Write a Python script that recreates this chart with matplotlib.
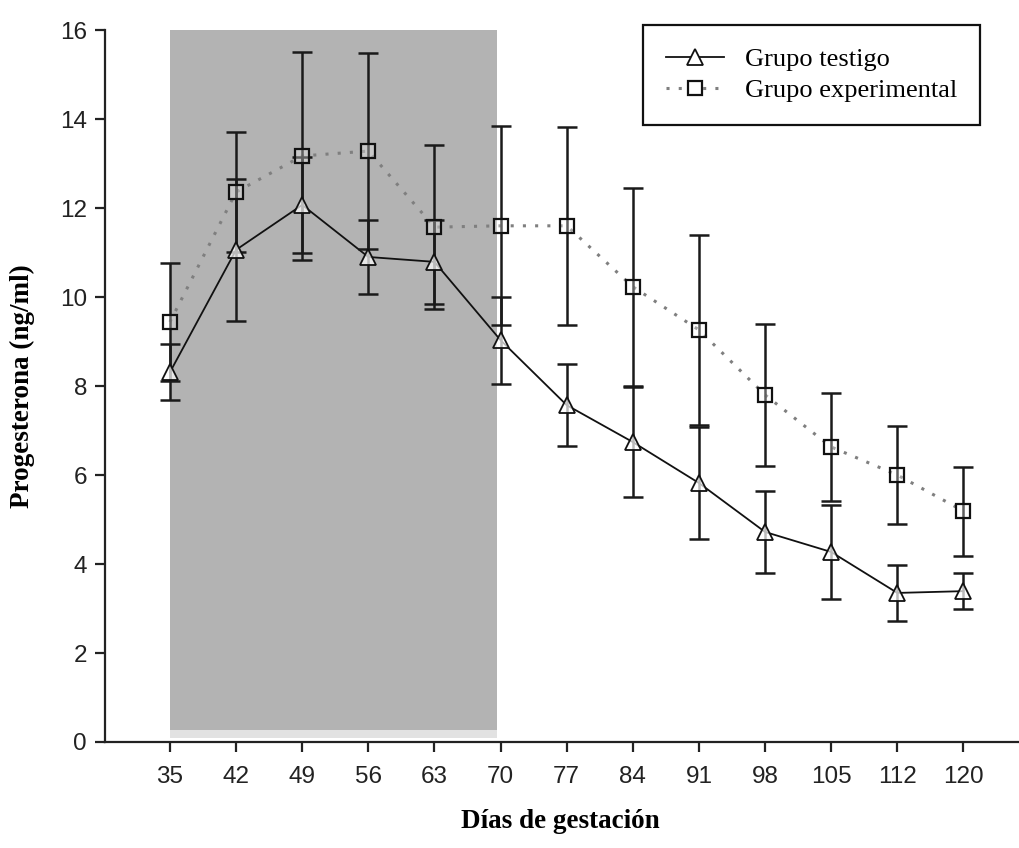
import matplotlib.pyplot as plt
import numpy as np

dias = ['35', '42', '49', '56', '63', '70', '77', '84', '91', '98', '105', '112', '120']

testigo = [8.31, 11.06, 12.07, 10.90, 10.79, 9.03, 7.57, 6.74, 5.82, 4.72, 4.27, 3.35, 3.39]
testigo_err = [0.63, 1.60, 1.07, 0.83, 0.95, 0.98, 0.92, 1.23, 1.26, 0.93, 1.06, 0.63, 0.40]

experimental = [9.44, 12.36, 13.17, 13.28, 11.57, 11.60, 11.60, 10.23, 9.26, 7.80, 6.63, 6.00, 5.19]
experimental_err = [1.32, 1.34, 2.33, 2.20, 1.85, 2.24, 2.22, 2.22, 2.13, 1.59, 1.21, 1.10, 1.00]

# periodo sombreado (indices de dias)
sombra_ini = 0
sombra_fin = 4.95

x = np.arange(len(dias))

fig = plt.figure(figsize=(10.19, 8.48), dpi=100)
ax = fig.add_axes([0.103, 0.125, 0.897, 0.8396])

ax.fill_between([sombra_ini, sombra_fin], 0.27, 16, color='#b3b3b3', lw=0, zorder=0)
ax.fill_between([sombra_ini, sombra_fin], 0.08, 0.27, color='#e2e2e2', lw=0, zorder=0)

ax.plot(x, experimental, linestyle=(0, (1, 3)), color='#7f7f7f', lw=2.2, zorder=2)
ax.plot(x, testigo, linestyle='-', color='#111111', lw=1.3, zorder=2)

ax.errorbar(x, testigo, yerr=testigo_err, fmt='none', ecolor='#1a1a1a',
            elinewidth=1.8, capsize=7.5, capthick=1.8, zorder=3)
ax.errorbar(x, experimental, yerr=experimental_err, fmt='none', ecolor='#1a1a1a',
            elinewidth=1.8, capsize=7.5, capthick=1.8, zorder=3)

ax.plot(x, testigo, linestyle='none', marker='^', markersize=11,
        markerfacecolor=(1, 1, 1, 0.7), markeredgecolor='#111111', markeredgewidth=1.3, zorder=4)
ax.plot(x, experimental, linestyle='none', marker='s', markersize=10,
        markerfacecolor=(1, 1, 1, 0.3), markeredgecolor='#111111', markeredgewidth=1.6, zorder=4)

# handles para la leyenda
h1, = ax.plot([], [], linestyle='-', color='#111111', lw=1.3, marker='^', markersize=11,
              markerfacecolor='white', markeredgecolor='#111111', markeredgewidth=1.3)
h2, = ax.plot([], [], linestyle=(0, (1, 3)), color='#7f7f7f', lw=2.2, marker='s', markersize=10,
              markerfacecolor='white', markeredgecolor='#111111', markeredgewidth=1.6)
leg = ax.legend([h1, h2], ['Grupo testigo', 'Grupo experimental'],
                loc='upper right', bbox_to_anchor=(0.957, 1.007), frameon=True, fancybox=False,
                prop={'family': 'Liberation Serif', 'size': 19}, handlelength=2.2,
                borderpad=0.85, labelspacing=0.3, handletextpad=0.8, borderaxespad=0)
leg.get_frame().set_edgecolor('#111111')
leg.get_frame().set_linewidth(1.6)
leg.get_frame().set_alpha(1)

ax.set_xlim(-0.983, 12.84)
ax.set_ylim(0, 16)
ax.set_xticks(x)
ax.set_xticklabels(dias)
ax.set_yticks(np.arange(0, 17, 2))

for s in ['top', 'right']:
    ax.spines[s].set_visible(False)
for s in ['left', 'bottom']:
    ax.spines[s].set_linewidth(1.6)
    ax.spines[s].set_color('#222222')

ax.tick_params(axis='both', direction='out', length=7, width=1.6, color='#222222',
               labelsize=17.5, labelcolor='#222222', pad=6)
ax.tick_params(axis='x', pad=10)
for lab in ax.get_xticklabels() + ax.get_yticklabels():
    lab.set_family('Liberation Sans')

fig.text(0.55, 0.016, 'Días de gestación', ha='center', va='bottom',
         family='Liberation Serif', weight='bold', fontsize=19.5)
fig.text(0.022, 0.545, 'Progesterona (ng/ml)', ha='center', va='center', rotation=90,
         family='Liberation Serif', weight='bold', fontsize=19.5)

fig.savefig('out.png', dpi=100)
